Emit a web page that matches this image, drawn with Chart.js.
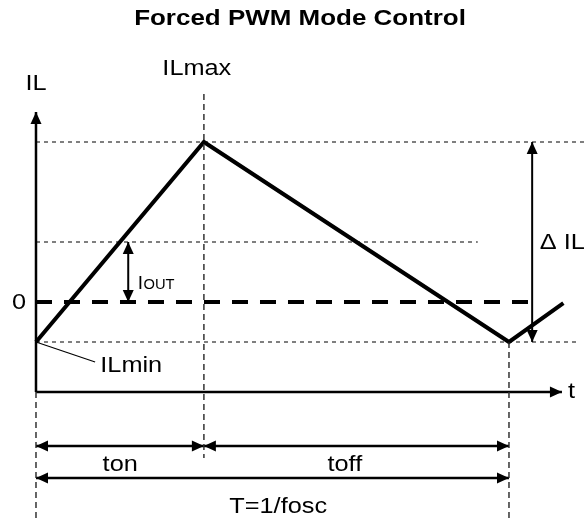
<!DOCTYPE html>
<html lang="en">
<head>
<meta charset="UTF-8">
<title>Forced PWM Mode Control</title>
<script src="https://cdn.jsdelivr.net/npm/chart.js"></script>
<style>
    html, body { margin: 0; padding: 0; background: #fff; }
    #wrap { width: 584px; height: 519px; }
</style>
</head>
<body>
<div id="wrap"><canvas id="pwmChart" width="584" height="519"></canvas></div>
<script>
// time axis in tenths of a period, current in arbitrary units
const T_PERIOD = 10;
const T_ON = 3.55;
const IL_MAX = 4;
const IL_MIN = -1;
const I_OUT = 1.5;

// inductor current waveform
const waveT = [0, T_ON, T_PERIOD, 11.15];
const waveIL = [IL_MIN, IL_MAX, IL_MIN, -0.03];

// horizontal reference levels and where they stop
const levelIL = [IL_MAX, I_OUT, IL_MIN];
const levelEnd = [11.6, 9.34, 11.44];
const zeroEnd = 10.42;

// vertical reference marks (t, from IL, to IL)
const markT = [0, T_ON, T_PERIOD];
const markFrom = [-2.25, 5.2, IL_MIN];
const markTo = [-5.5, -3.9, -5.5];

// axes
const axisOrigin = [0, -2.25];
const axisXEnd = 11.12;
const axisYEnd = 4.75;

// dimension arrows
const dIL_T = 10.49;
const iout_T = 1.95;
const tonRow = -3.6;
const periodRow = -4.4;

const labels = [
    { text: 'ILmax', x: 3.4, y: 5.82, align: 'center' },
    { text: 'IL', x: 0.0, y: 5.45, align: 'center' },
    { text: '0', x: -0.36, y: -0.02, align: 'center' },
    { text: 'ILmin', x: 1.36, y: -1.6, align: 'left' },
    { text: '\u0394 IL', x: 10.65, y: 1.48, align: 'left' },
    { text: 't', x: 11.25, y: -2.25, align: 'left' },
    { text: 'ton', x: 1.78, y: -4.08, align: 'center' },
    { text: 'toff', x: 6.53, y: -4.08, align: 'center' },
    { text: 'T=1/fosc', x: 5.12, y: -5.12, align: 'center' }
];

function seg(x1, y1, x2, y2) {
    return [{ x: x1, y: y1 }, { x: x2, y: y2 }];
}

function lineSet(data, width, color, dash) {
    return {
        data: data,
        showLine: true,
        borderColor: color,
        borderWidth: width,
        borderDash: dash || [],
        pointRadius: 0,
        fill: false,
        tension: 0
    };
}

const datasets = [];
// thin dashed levels
levelIL.forEach((v, i) => datasets.push(lineSet(seg(0, v, levelEnd[i], v), 1, '#000', [4, 4])));
// vertical marks
markT.forEach((t, i) => datasets.push(lineSet(seg(t, markFrom[i], t, markTo[i]), 1.5, '#333', [6, 4])));
// zero line
datasets.push(lineSet(seg(0, 0, zeroEnd, 0), 4, '#000', [16, 12]));
// axes
datasets.push(lineSet(seg(axisOrigin[0], axisOrigin[1], axisXEnd, axisOrigin[1]), 2.5, '#000'));
datasets.push(lineSet(seg(axisOrigin[0], axisOrigin[1], axisOrigin[0], axisYEnd), 2.5, '#000'));
// dimension arrows
datasets.push(lineSet(seg(dIL_T, IL_MIN, dIL_T, IL_MAX), 2, '#000'));
datasets.push(lineSet(seg(iout_T, 0, iout_T, I_OUT), 2, '#000'));
datasets.push(lineSet(seg(0, tonRow, T_ON, tonRow), 2.5, '#000'));
datasets.push(lineSet(seg(T_ON, tonRow, T_PERIOD, tonRow), 2.5, '#000'));
datasets.push(lineSet(seg(0, periodRow, T_PERIOD, periodRow), 2.5, '#000'));
// ILmin leader
datasets.push(lineSet(seg(0, IL_MIN, 1.25, -1.5), 1.2, '#000'));
// waveform
datasets.push(lineSet(waveT.map((t, i) => ({ x: t, y: waveIL[i] })), 4, '#000'));

// arrow heads: [x, y, direction]
const heads = [
    [axisXEnd, axisOrigin[1], 'right'],
    [axisOrigin[0], axisYEnd, 'up'],
    [dIL_T, IL_MAX, 'up'], [dIL_T, IL_MIN, 'down'],
    [iout_T, I_OUT, 'up'], [iout_T, 0, 'down'],
    [0, tonRow, 'left'], [T_ON, tonRow, 'right'],
    [T_ON, tonRow, 'left'], [T_PERIOD, tonRow, 'right'],
    [0, periodRow, 'left'], [T_PERIOD, periodRow, 'right']
];

const annotate = {
    id: 'annotate',
    afterDatasetsDraw(chart) {
        const ctx = chart.ctx;
        const xs = chart.scales.x, ys = chart.scales.y;
        ctx.save();
        ctx.fillStyle = '#000';
        heads.forEach(h => {
            const px = xs.getPixelForValue(h[0]);
            const py = ys.getPixelForValue(h[1]);
            const L = 12, W = 5.5;
            ctx.beginPath();
            if (h[2] === 'right') { ctx.moveTo(px, py); ctx.lineTo(px - L, py - W); ctx.lineTo(px - L, py + W); }
            if (h[2] === 'left') { ctx.moveTo(px, py); ctx.lineTo(px + L, py - W); ctx.lineTo(px + L, py + W); }
            if (h[2] === 'up') { ctx.moveTo(px, py); ctx.lineTo(px - W, py + L); ctx.lineTo(px + W, py + L); }
            if (h[2] === 'down') { ctx.moveTo(px, py); ctx.lineTo(px - W, py - L); ctx.lineTo(px + W, py - L); }
            ctx.closePath();
            ctx.fill();
        });

        ctx.textBaseline = 'middle';
        labels.forEach(l => {
            const px = xs.getPixelForValue(l.x);
            const py = ys.getPixelForValue(l.y);
            ctx.save();
            ctx.translate(px, py);
            ctx.scale(1.15, 1);
            ctx.font = '22px "Liberation Sans", Arial, sans-serif';
            ctx.textAlign = l.align;
            ctx.fillText(l.text, 0, 0);
            ctx.restore();
        });

        // I_OUT label with small caps subscript
        const ix = xs.getPixelForValue(2.15), iy = ys.getPixelForValue(0.33);
        ctx.save();
        ctx.translate(ix, iy);
        ctx.textBaseline = 'alphabetic';
        ctx.textAlign = 'left';
        ctx.font = '19px "Liberation Sans", Arial, sans-serif';
        ctx.fillText('I', 0, 0);
        ctx.scale(1.05, 1);
        ctx.font = '14px "Liberation Sans", Arial, sans-serif';
        ctx.fillText('OUT', 5.5, 0);
        ctx.restore();

        // title
        ctx.save();
        ctx.translate(chart.width / 2 + 8, 19);
        ctx.scale(1.18, 1);
        ctx.font = 'bold 22px "Liberation Sans", Arial, sans-serif';
        ctx.textAlign = 'center';
        ctx.fillText('Forced PWM Mode Control', 0, 0);
        ctx.restore();
        ctx.restore();
    }
};

new Chart(document.getElementById('pwmChart'), {
    type: 'scatter',
    data: { datasets: datasets },
    options: {
        responsive: false,
        animation: false,
        devicePixelRatio: 1,
        layout: { padding: 0 },
        scales: {
            x: { type: 'linear', display: false, min: -0.761, max: 11.586 },
            y: { type: 'linear', display: false, min: -5.425, max: 7.55 }
        },
        plugins: {
            legend: { display: false },
            tooltip: { enabled: false }
        }
    },
    plugins: [annotate]
});
</script>
</body>
</html>
